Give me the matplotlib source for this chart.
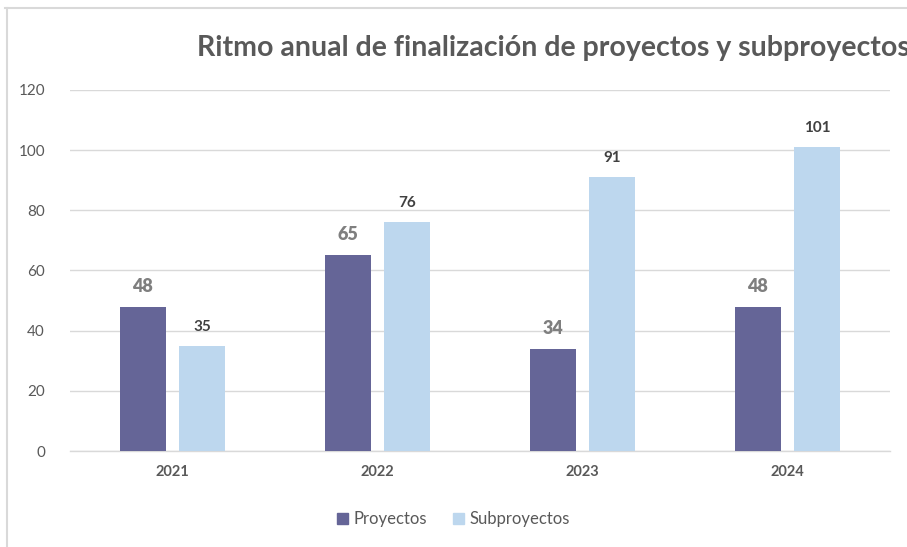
import numpy as np
import matplotlib.pyplot as plt
from matplotlib.lines import Line2D
from matplotlib.patches import Patch

plt.rcParams['font.family'] = ['Lato', 'DejaVu Sans']

years = ['2021', '2022', '2023', '2024']
proyectos = [48, 65, 34, 48]
subproyectos = [35, 76, 91, 101]
yticks = [0, 20, 40, 60, 80, 100, 120]

c_proy = '#656597'
c_sub = '#BDD7EE'
grid_c = '#D9D9D9'
txt_c = '#595959'

fig = plt.figure(figsize=(9.07, 5.47), dpi=100)
ax = fig.add_axes([0.0772, 0.1755, 0.904, 0.660])

x = np.arange(len(years))
w = 0.224
off = 0.145
b1 = ax.bar(x - off, proyectos, w, color=c_proy, zorder=3)
b2 = ax.bar(x + off, subproyectos, w, color=c_sub, zorder=3)

for rect, v in zip(b1, proyectos):
    ax.text(rect.get_x() + rect.get_width() / 2, v + 4, str(v), ha='center', va='bottom',
            fontsize=13, fontweight='heavy', color='#7F7F7F')
for rect, v in zip(b2, subproyectos):
    ax.text(rect.get_x() + rect.get_width() / 2, v + 4, str(v), ha='center', va='bottom',
            fontsize=11, fontweight='bold', color='#404040')

ax.set_xlim(-0.5, 3.5)
ax.set_ylim(0, 120)
ax.set_yticks(yticks)
ax.set_xticks(x)
ax.set_xticklabels(years, fontweight='bold', fontsize=10.5, color=txt_c)
ax.tick_params(axis='y', length=0, labelsize=11, labelcolor=txt_c, pad=18)
ax.tick_params(axis='x', length=0, pad=10)
ax.grid(axis='y', color=grid_c, linewidth=1, zorder=0)
for s in ['top', 'right', 'left']:
    ax.spines[s].set_visible(False)
ax.spines['bottom'].set_color(grid_c)
ax.spines['bottom'].set_linewidth(1)

fig.text(197 / 907, 1 - 48 / 547, 'Ritmo anual de finalización de proyectos y subproyectos',
         ha='left', va='center', fontsize=20.5, fontweight='bold', color=txt_c)

handles = [Patch(color=c_proy, label='Proyectos'), Patch(color=c_sub, label='Subproyectos')]
fig.legend(handles=handles, loc='center', bbox_to_anchor=(0.5, 1 - 519 / 547), ncol=2,
           frameon=False, fontsize=12, labelcolor=txt_c, handlelength=0.65, handleheight=0.65,
           handletextpad=0.3, columnspacing=1.6)

# border of the chart area
fig.add_artist(Line2D([5 / 907, 1], [1 - 8 / 547, 1 - 8 / 547], color=grid_c, linewidth=1.5))
fig.add_artist(Line2D([7 / 907, 7 / 907], [0, 1 - 8 / 547], color=grid_c, linewidth=1.5))

fig.savefig('out.png', dpi=100)
